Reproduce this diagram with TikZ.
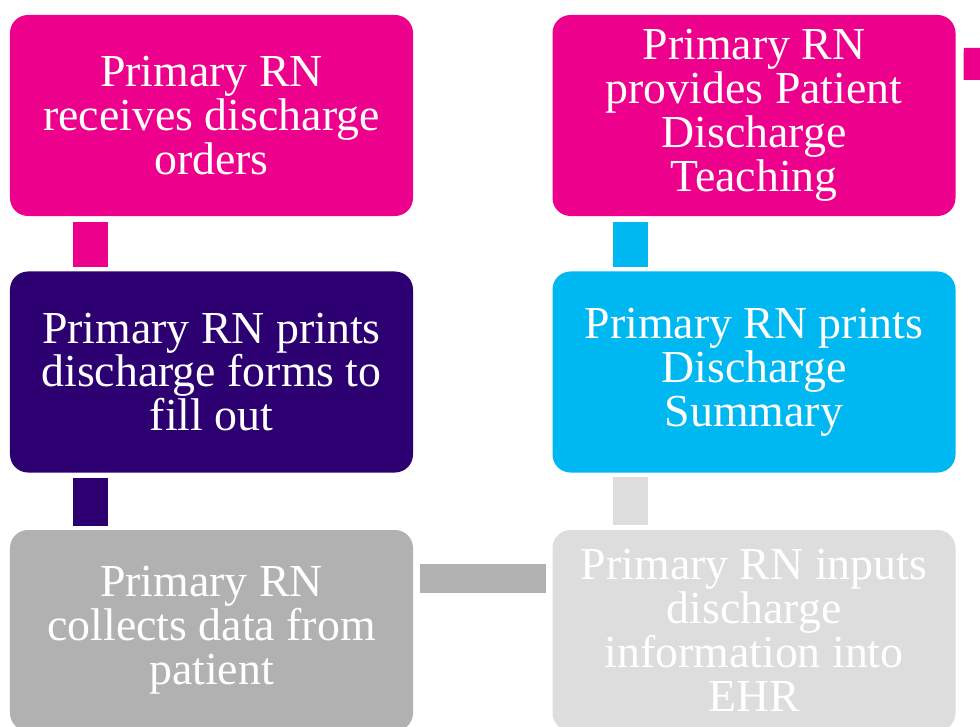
\documentclass[tikz,border=0pt]{standalone}
\usepackage{fontspec}
\setmainfont{Liberation Serif}
\definecolor{rnpink}{HTML}{EC008C}
\definecolor{rnpurple}{HTML}{2C0070}
\definecolor{rncyan}{HTML}{00B8F1}
\definecolor{rngray}{HTML}{B1B1B1}
\definecolor{rnlight}{HTML}{DDDDDD}

\begin{document}
\begin{tikzpicture}[x=1bp, y=-1bp,
	rnbox/.style={rounded corners=18bp, minimum width=403bp, minimum height=201bp, inner sep=0pt,
		align=center, text=white, font=\fontsize{46}{44}\selectfont},
	link/.style={line width=35bp}]
	\useasboundingbox (0,0) rectangle (980,727);
	\clip (0,0) rectangle (980,727);
	
	% left column, top to bottom
	\node[rnbox, fill=rnpink] (recv) at (211.5,115.5){Primary RN\\receives discharge\\orders};
	\node[rnbox, fill=rnpurple] (forms) at (211.5,372){Primary RN prints\\discharge forms to\\fill out};
	\node[rnbox, fill=rngray] (collect) at (211.5,630.5){Primary RN\\collects data from\\patient};
	
	% right column, bottom to top
	\node[rnbox, fill=rnlight] (ehr) at (754,630.5){Primary RN inputs\\discharge\\information into\\EHR};
	\node[rnbox, fill=rncyan] (summary) at (754,372){Primary RN prints\\Discharge\\Summary};
	\node[rnbox, fill=rnpink] (teach) at (754,115.5){Primary RN\\provides Patient\\Discharge\\Teaching};
	
	\coordinate (next) at (1020,64);
	
	% links, coloured like the step they leave
	\draw[link, rnpink, shorten <=6bp, shorten >=4bp] ([xshift=81bp]recv.south west) -- ([xshift=81bp]forms.north west);
	\draw[link, rnpurple, shorten <=5bp, shorten >=4bp] ([xshift=81bp]forms.south west) -- ([xshift=81bp]collect.north west);
	\draw[link, rngray, line width=29bp, shorten <=7bp, shorten >=6bp] ([yshift=-49bp]collect.north east) -- ([yshift=-49bp]ehr.north west);
	\draw[link, rnlight, shorten <=5bp, shorten >=4bp] ([xshift=78bp]ehr.north west) -- ([xshift=78bp]summary.south west);
	\draw[link, rncyan, shorten <=4bp, shorten >=6bp] ([xshift=78bp]summary.north west) -- ([xshift=78bp]teach.south west);
	\draw[link, rnpink, line width=32bp, shorten <=8bp] ([yshift=-49bp]teach.north east) -- (next);
\end{tikzpicture}
\end{document}
